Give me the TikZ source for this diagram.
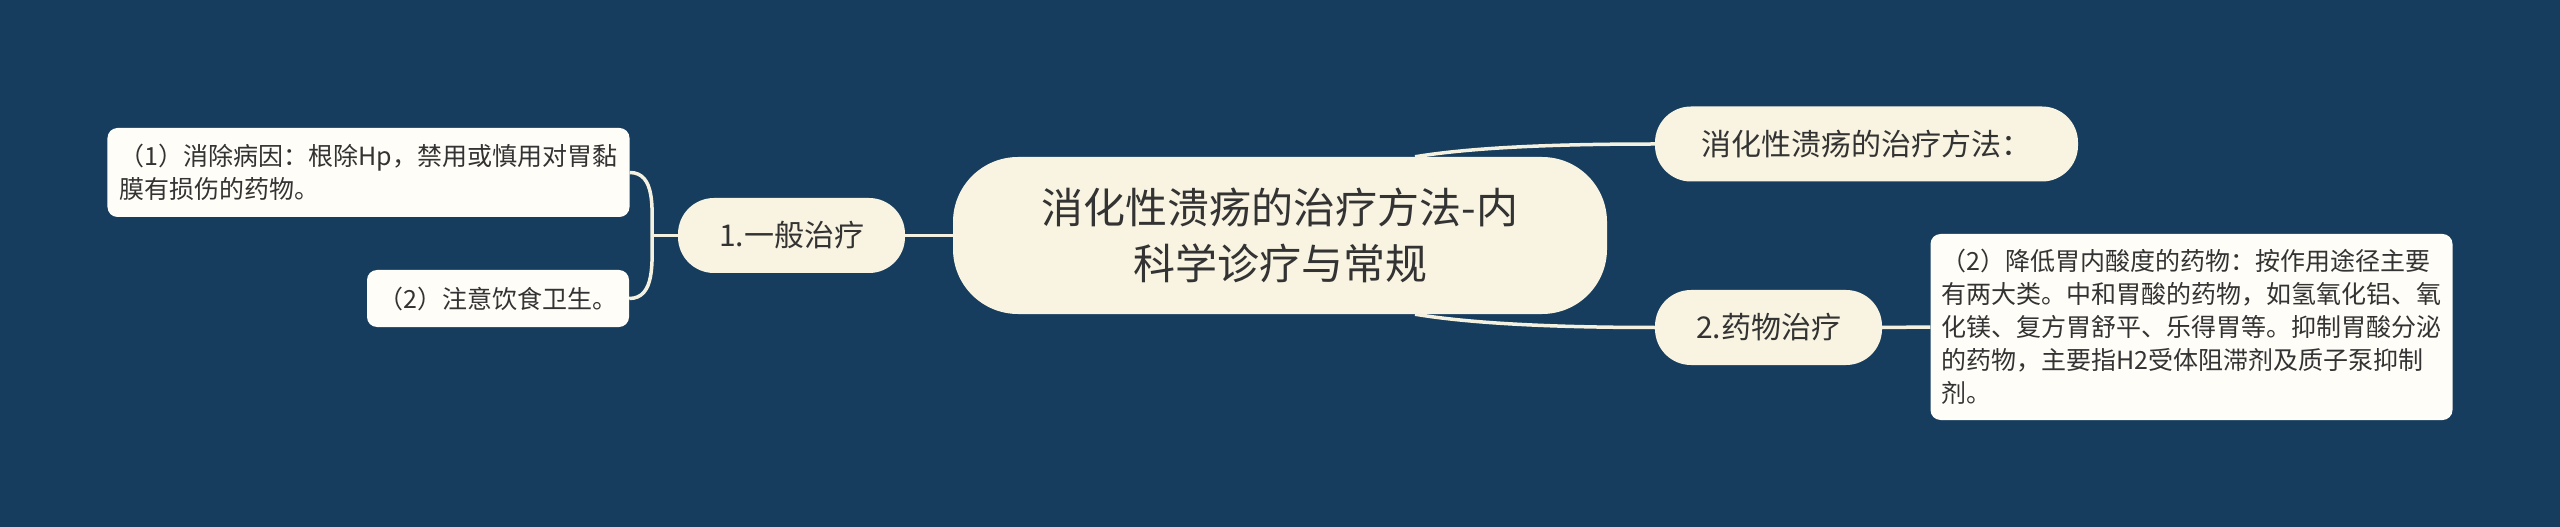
\documentclass[tikz,border=0pt]{standalone}
\usepackage{fontspec}
\newfontfamily\cjk{Noto Sans CJK SC}
\definecolor{bgc}{HTML}{173D5E}
\definecolor{rootc}{HTML}{F8F4E1}
\definecolor{leafc}{HTML}{FFFDF7}
\definecolor{linkc}{HTML}{F5F1E0}
\definecolor{txt}{HTML}{333333}
\tikzset{
  root/.style={fill=rootc,rounded corners=65bp,minimum width=654bp,minimum height=157bp,
    align=center,text=txt,font=\cjk\fontsize{42bp}{56.5bp}\selectfont},
  topic/.style={fill=rootc,rounded corners=36bp,minimum height=75bp,
    text=txt,font=\cjk\fontsize{30bp}{36bp}\selectfont},
  leaf/.style={fill=leafc,rounded corners=10bp,align=left,inner xsep=11bp,
    text=txt,font=\cjk\fontsize{25bp}{33bp}\selectfont},
  link/.style={draw=linkc,line width=3.5bp}
}
\begin{document}
\begin{tikzpicture}[x=1bp,y=-1bp]

\fill[bgc] (0,0) rectangle (2560,527);
\node[root] (c) at (1280,235.5) {消化性溃疡的治疗方法-内\\科学诊疗与常规};
\node[topic,minimum width=227bp] (n1) at (791.5,235.5) {1.一般治疗};
\node[leaf,minimum width=522bp,minimum height=89bp] (a1) at (368.5,172.5) {（1）消除病因：根除Hp，禁用或慎用对胃黏\\膜有损伤的药物。};
\node[leaf,minimum width=262bp,minimum height=57bp] (a2) at (498,298.5) {（2）注意饮食卫生。};
\node[topic,minimum width=423bp] (t1) at (1866.5,144) {消化性溃疡的治疗方法：};
\node[topic,minimum width=227bp] (t2) at (1768.5,327.5) {2.药物治疗};
\node[leaf,minimum width=521bp,minimum height=186bp] (b1) at (2191.5,327) {（2）降低胃内酸度的药物：按作用途径主要\\有两大类。中和胃酸的药物，如氢氧化铝、氧\\化镁、复方胃舒平、乐得胃等。抑制胃酸分泌\\的药物，主要指H2受体阻滞剂及质子泵抑制\\剂。};

\coordinate (j) at (652,235.5);
\draw[link] (c.west) -- (n1.east);
\draw[link] (n1.west) -- (j);
\draw[link] (a1.east) to[out=0,in=90] (j) to[out=-90,in=0] (a2.east);
\draw[link] (c.north) ++(135,0) .. controls +(60,-10) and +(-90,0) .. (t1.west);
\draw[link] (c.south) ++(135,0) .. controls +(60,10) and +(-90,0) .. (t2.west);
\draw[link] (t2.east) -- (b1.west);
\end{tikzpicture}
\end{document}
